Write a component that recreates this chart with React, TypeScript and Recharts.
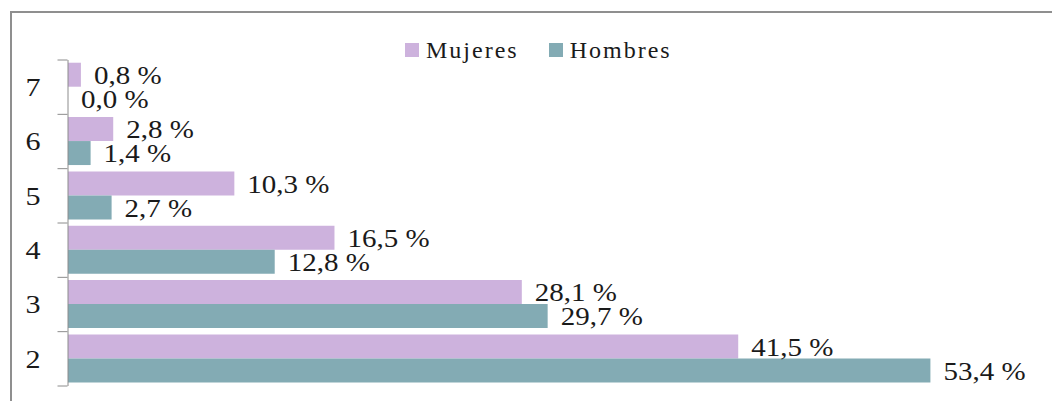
import { Bar, BarChart, LabelList, Legend, XAxis, YAxis } from "recharts";

const categories = ["7", "6", "5", "4", "3", "2"];
const mujeres = [0.8, 2.8, 10.3, 16.5, 28.1, 41.5];
const hombres = [0.0, 1.4, 2.7, 12.8, 29.7, 53.4];

const series = [
  { key: "mujeres", name: "Mujeres", color: "#cdb2dd" },
  { key: "hombres", name: "Hombres", color: "#83abb4" },
];

const data = categories.map((cat, i) => ({
  cat,
  mujeres: mujeres[i],
  hombres: hombres[i],
}));

const W = 1052;
const H = 401;
const MARGIN = { top: 60, right: 15, bottom: 15, left: 0 };
const AXIS_W = 68;
const BAND = (H - MARGIN.top - MARGIN.bottom) / categories.length;
const FONT = "Liberation Serif, Times New Roman, Times, serif";
const STRETCH = 1.16;

const fmt = (v: number) => `${v.toFixed(1).replace(".", ",")} %`;

const CatTick = (props: any) => {
  const { y, payload, index } = props;
  const ax = MARGIN.left + AXIS_W - 0.5;
  return (
    <g>
      <line x1={ax - 10} x2={ax} y1={y - BAND / 2} y2={y - BAND / 2} stroke="#8c8c8c" />
      {index === categories.length - 1 && (
        <line x1={ax - 10} x2={ax} y1={y + BAND / 2} y2={y + BAND / 2} stroke="#8c8c8c" />
      )}
      <text
        transform={`translate(${ax - 27}, ${y}) scale(${STRETCH}, 1)`}
        textAnchor="end"
        dominantBaseline="central"
        style={{ fontFamily: FONT, fontSize: 26 }}
        fill="#1a1a1a"
      >
        {payload.value}
      </text>
    </g>
  );
};

const ValueLabel = (props: any) => {
  const { x, y, width, height, value } = props;
  return (
    <text
      transform={`translate(${x + width + 13}, ${y + height / 2 + 1}) scale(${STRETCH}, 1)`}
      dominantBaseline="central"
      style={{ fontFamily: FONT, fontSize: 25 }}
      fill="#1a1a1a"
    >
      {fmt(Number(value))}
    </text>
  );
};

const LegendBox = () => (
  <div style={{ display: "flex", alignItems: "center", gap: 30, fontFamily: FONT }}>
    {series.map((s) => (
      <div key={s.key} style={{ display: "flex", alignItems: "center", gap: 7 }}>
        <span style={{ width: 14, height: 14, background: s.color, display: "inline-block" }} />
        <span style={{ fontSize: 24, letterSpacing: 2, color: "#1a1a1a", lineHeight: "24px" }}>
          {s.name}
        </span>
      </div>
    ))}
  </div>
);

export default function App() {
  return (
    <div
      style={{
        position: "absolute",
        left: 0,
        top: 0,
        width: W,
        height: H,
        overflow: "hidden",
        background: "#fff",
        fontFamily: FONT,
      }}
    >
      <div
        style={{
          position: "absolute",
          left: 10,
          top: 11,
          width: 1200,
          height: 600,
          borderTop: "2px solid #8f8f8f",
          borderLeft: "2px solid #8f8f8f",
        }}
      />
      <BarChart
        width={W}
        height={H}
        data={data}
        layout="vertical"
        margin={MARGIN}
        barCategoryGap="5%"
        barGap={0}
        style={{ position: "absolute", left: 0, top: 0 }}
      >
        <XAxis type="number" domain={[0, 60]} hide />
        <YAxis
          type="category"
          dataKey="cat"
          width={AXIS_W}
          axisLine={{ stroke: "#8c8c8c" }}
          tickLine={false}
          tick={<CatTick />}
          interval={0}
        />
        <Legend
          layout="horizontal"
          verticalAlign="middle"
          content={<LegendBox />}
          wrapperStyle={{ top: 38, left: 405, width: "auto" }}
        />
        {series.map((s) => (
          <Bar
            key={s.key}
            dataKey={s.key}
            name={s.name}
            fill={s.color}
            minPointSize={0.01}
            isAnimationActive={false}
          >
            <LabelList dataKey={s.key} content={<ValueLabel />} />
          </Bar>
        ))}
      </BarChart>
    </div>
  );
}
